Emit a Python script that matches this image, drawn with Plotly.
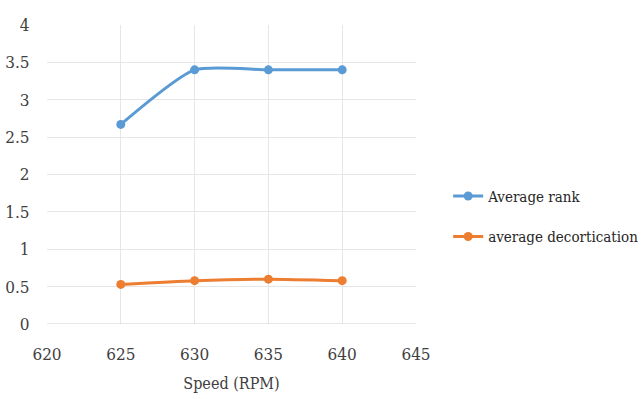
import plotly.graph_objects as go

speed = [625, 630, 635, 640]
average_rank = [2.67, 3.4, 3.4, 3.4]
average_decortication = [0.53, 0.58, 0.6, 0.58]

x_ticks = [620, 625, 630, 635, 640, 645]
y_ticks = [0, 0.5, 1, 1.5, 2, 2.5, 3, 3.5, 4]

font_family = "DejaVu Serif Condensed, DejaVu Serif"

fig = go.Figure()
fig.add_trace(go.Scatter(
    x=speed, y=average_rank, name="Average rank", mode="lines+markers",
    line=dict(color="#5b9bd5", width=3, shape="spline", smoothing=0.6),
    marker=dict(size=9, color="#5b9bd5"), legendgroup="a",
))
fig.add_trace(go.Scatter(
    x=speed, y=average_decortication, name="average decortication", mode="lines+markers",
    line=dict(color="#ed7d31", width=3, shape="spline", smoothing=0.6),
    marker=dict(size=9, color="#ed7d31"), legendgroup="b",
))

fig.update_layout(
    width=643, height=399,
    margin=dict(l=47, r=227, t=25, b=75, autoexpand=False),
    paper_bgcolor="white", plot_bgcolor="white",
    font=dict(family=font_family, size=16, color="#404040"),
    showlegend=True,
    legend=dict(xref="container", yref="container", x=0.697, y=0.458,
                xanchor="left", yanchor="middle",
                font=dict(family=font_family, size=15, color="#262626"), tracegroupgap=18,
                bgcolor="rgba(0,0,0,0)"),
    xaxis=dict(range=[620, 645], tickvals=x_ticks, ticktext=[str(v) for v in x_ticks],
               showgrid=True, gridcolor="#e6e6e6", gridwidth=1, zeroline=False,
               showline=False, ticks="outside", ticklen=15, tickcolor="white",
               tickfont=dict(family=font_family, size=17), automargin=False,
               title=dict(text="Speed (RPM)", font=dict(family=font_family, size=16, color="#404040"), standoff=14)),
    yaxis=dict(range=[0, 4], tickvals=y_ticks, ticktext=[f"{v:g}" for v in y_ticks],
               showgrid=True, gridcolor="#e6e6e6", gridwidth=1, zeroline=False,
               showline=False, ticks="outside", ticklen=13, tickcolor="white",
               tickfont=dict(family=font_family, size=17), automargin=False),
)
fig.add_shape(type="line", xref="paper", yref="y", x0=0, x1=1, y0=0, y1=0,
              line=dict(color="#d0d0d0", width=1.2))

fig.write_html("out.html")
